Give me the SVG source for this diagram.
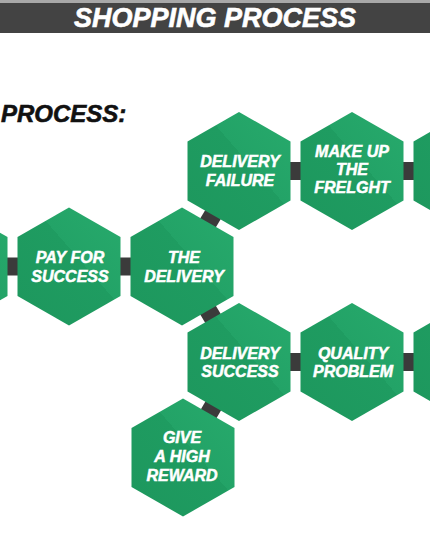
<svg xmlns="http://www.w3.org/2000/svg" width="430" height="537" viewBox="0 0 430 537">
  <defs>
    <linearGradient id="hexFill" x1="0" y1="1" x2="1" y2="0">
      <stop offset="0" stop-color="#1d975d"/>
      <stop offset="0.58" stop-color="#1f9c61"/>
      <stop offset="0.58" stop-color="#23a367"/>
      <stop offset="1" stop-color="#27aa6c"/>
    </linearGradient>
    <polygon id="hex" points="0,-59 51.5,-29.5 51.5,29.5 0,59 -51.5,29.5 -51.5,-29.5"/>
  </defs>
  <style>
    .hex { fill: url(#hexFill); }
    .lbl { font-family: "Liberation Sans", Arial, sans-serif; font-weight: bold; font-style: italic; font-size: 16px; fill: #ffffff; stroke: #ffffff; stroke-width: 0.5; text-anchor: middle; }
    .conn { stroke: #3b3b3b; stroke-width: 18; fill: none; }
    .title { font-family: "Liberation Sans", Arial, sans-serif; font-weight: bold; font-style: italic; fill: #ffffff; stroke: #ffffff; stroke-width: 0.6; }
  </style>
  <rect x="0" y="0" width="430" height="537" fill="#ffffff"/>
  <g id="title-bar">
    <rect x="0" y="0" width="430" height="3" fill="#a8a8a8"/>
    <rect x="0" y="3" width="430" height="30" fill="#434343"/>
    <text class="title" x="215" y="27" font-size="27" text-anchor="middle">SHOPPING PROCESS</text>
  </g>
  <text id="subtitle" x="1" y="122" font-family="Liberation Sans, Arial, sans-serif" font-weight="bold" font-style="italic" font-size="24" fill="#111111" stroke="#111111" stroke-width="0.6">PROCESS:</text>
  <g id="connectors">
    <line class="conn" x1="-44" y1="266.5" x2="69" y2="266.5"/>
    <line class="conn" x1="69" y1="266.5" x2="182" y2="266.5"/>
    <line class="conn" x1="182" y1="266.5" x2="239" y2="171"/>
    <line class="conn" x1="239" y1="171" x2="352" y2="171"/>
    <line class="conn" x1="352" y1="171" x2="465" y2="171"/>
    <line class="conn" x1="182" y1="266.5" x2="239" y2="362"/>
    <line class="conn" x1="239" y1="362" x2="352" y2="362"/>
    <line class="conn" x1="352" y1="362" x2="465" y2="362"/>
    <line class="conn" x1="239" y1="362" x2="183" y2="457.5"/>
  </g>
  <g id="node-prev">
    <use href="#hex" class="hex" transform="translate(-44,266.5)"/>
  </g>
  <g id="node-pay-for-success">
    <use href="#hex" class="hex" transform="translate(69,266.5)"/>
    <text class="lbl" x="70" y="263">PAY FOR</text>
    <text class="lbl" x="70" y="282">SUCCESS</text>
  </g>
  <g id="node-the-delivery">
    <use href="#hex" class="hex" transform="translate(182,266.5)"/>
    <text class="lbl" x="184" y="263">THE</text>
    <text class="lbl" x="184" y="282">DELIVERY</text>
  </g>
  <g id="node-delivery-failure">
    <use href="#hex" class="hex" transform="translate(239,171)"/>
    <text class="lbl" x="240" y="167">DELIVERY</text>
    <text class="lbl" x="240" y="186">FAILURE</text>
  </g>
  <g id="node-make-up-freight">
    <use href="#hex" class="hex" transform="translate(352,171)"/>
    <text class="lbl" x="352" y="157">MAKE UP</text>
    <text class="lbl" x="352" y="175">THE</text>
    <text class="lbl" x="352" y="193">FRELGHT</text>
  </g>
  <g id="node-next-top">
    <use href="#hex" class="hex" transform="translate(465,171)"/>
  </g>
  <g id="node-delivery-success">
    <use href="#hex" class="hex" transform="translate(239,362)"/>
    <text class="lbl" x="240" y="359">DELIVERY</text>
    <text class="lbl" x="240" y="377">SUCCESS</text>
  </g>
  <g id="node-quality-problem">
    <use href="#hex" class="hex" transform="translate(352,362)"/>
    <text class="lbl" x="353" y="359">QUALITY</text>
    <text class="lbl" x="353" y="377">PROBLEM</text>
  </g>
  <g id="node-next-bottom">
    <use href="#hex" class="hex" transform="translate(465,362)"/>
  </g>
  <g id="node-give-high-reward">
    <use href="#hex" class="hex" transform="translate(183,457.5)"/>
    <text class="lbl" x="182" y="443">GIVE</text>
    <text class="lbl" x="182" y="462">A HIGH</text>
    <text class="lbl" x="182" y="481">REWARD</text>
  </g>
</svg>
